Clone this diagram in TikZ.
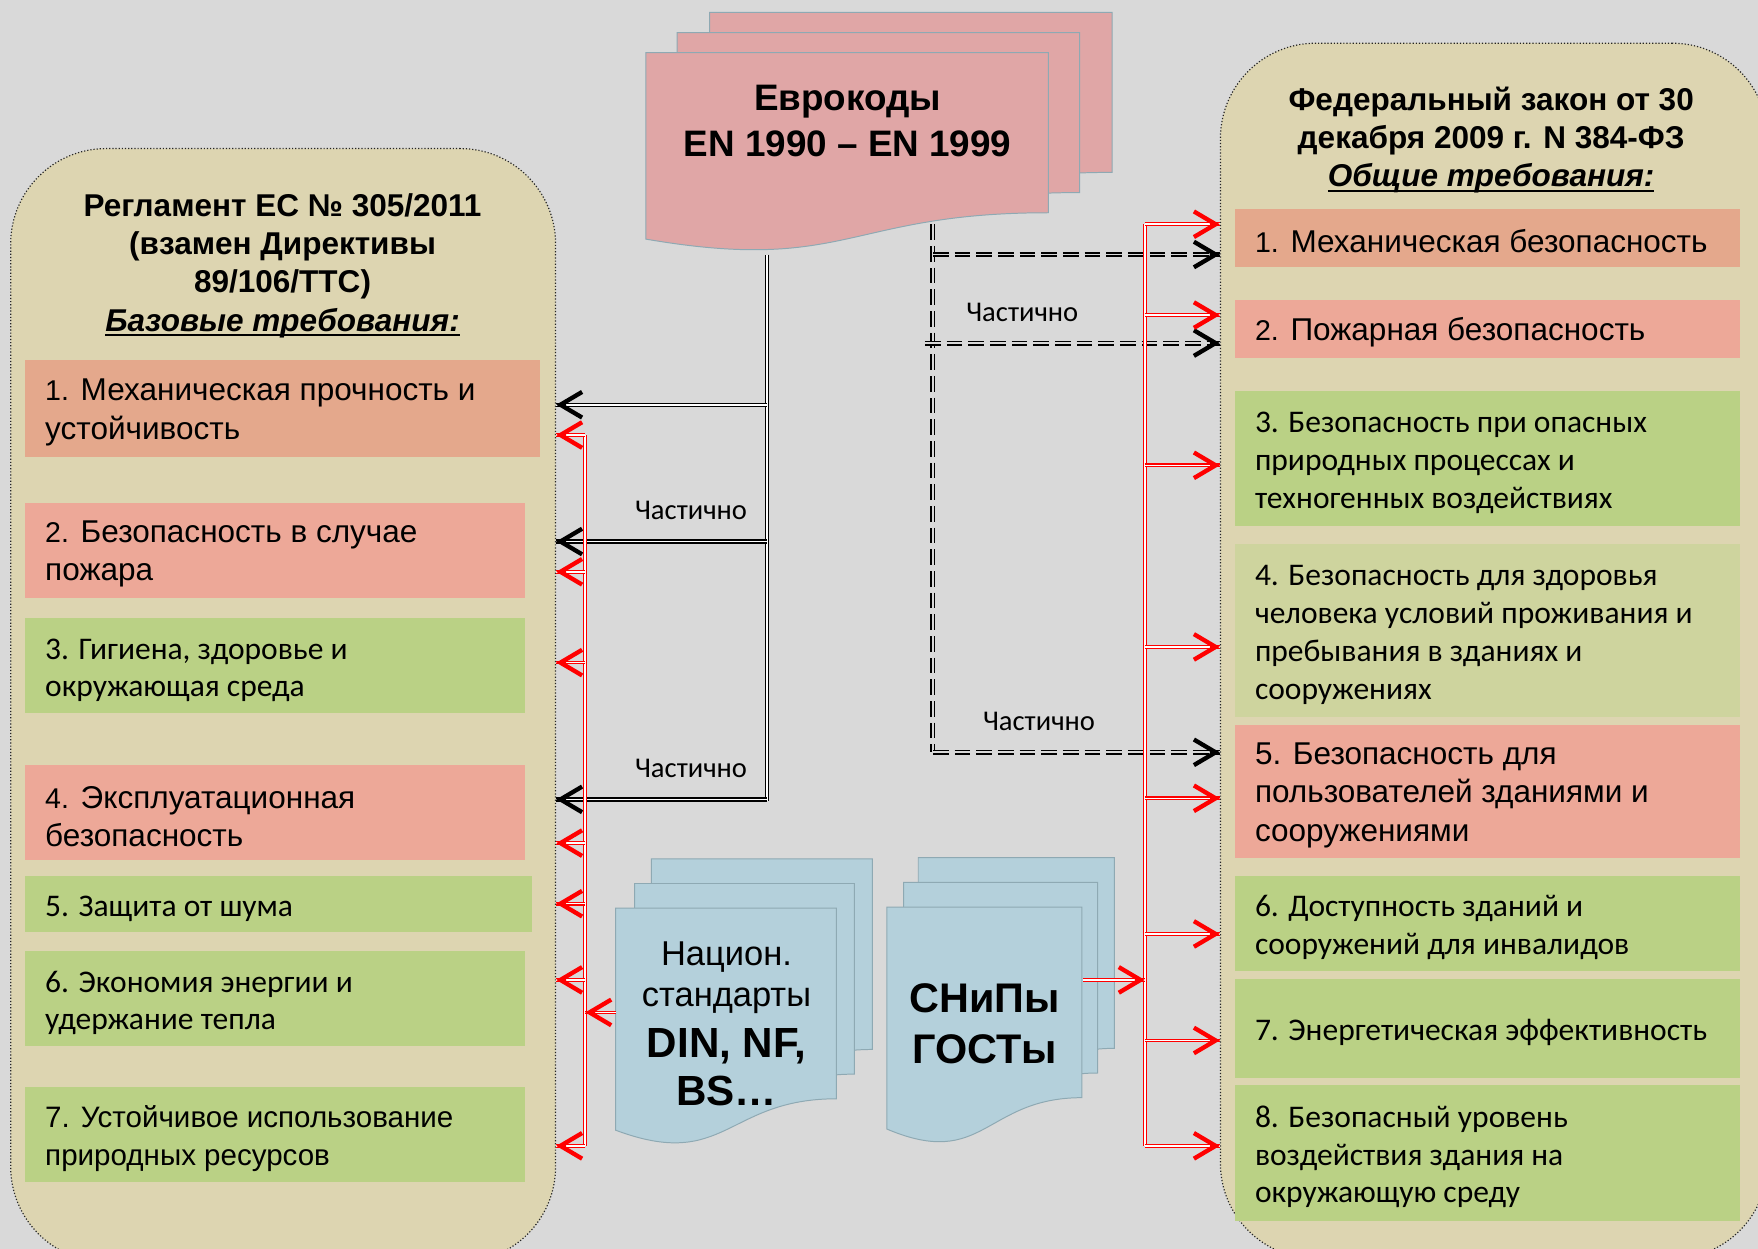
\documentclass[tikz,border=0pt]{standalone}
\usepackage{fontspec}
\setmainfont{Liberation Sans}
\newfontfamily\calfont{Carlito}
\usetikzlibrary{arrows.meta}

\definecolor{bggray}{HTML}{D9D9D9}
\definecolor{panelbeige}{HTML}{DDD5B1}
\definecolor{reqorange}{HTML}{E4A88C}
\definecolor{reqpink}{HTML}{EDA898}
\definecolor{reqgreen}{HTML}{BAD185}
\definecolor{reqpale}{HTML}{CED49E}
\definecolor{europink}{HTML}{E0A6A6}
\definecolor{docblue}{HTML}{B4D0DB}
\definecolor{docedge}{HTML}{8EA9B3}

% underlined subtitle
\newcommand{\titleul}[1]{\setbox0\hbox{#1}\rlap{\rule[-2.6pt]{\wd0}{1pt}}\box0}
% smaller item number
\newcommand{\itemno}[1]{{\fontsize{14.5}{19.4}\selectfont #1}}
% document shape: x, y, width, height, fill
\newcommand{\docpage}[5]{%
  \filldraw[docpage, fill=#5] (#1,#2) -- ({#1+#3},#2) -- ({#1+#3},{#2+0.802*#4})
    .. controls ({#1+0.5*#3},{#2+0.802*#4}) and ({#1+0.5*#3},{#2+1.1075*#4}) .. (#1,{#2+0.934*#4}) -- cycle;}

\tikzset{
  panel/.style={anchor=north west, draw=black!85, densely dotted, line width=0.6pt,
    fill=panelbeige, rounded corners=17mm},
  ptitle/.style={align=center, font=\fontsize{16}{19.4}\selectfont\bfseries},
  reqbox/.style={anchor=north west, inner xsep=3.6mm, inner ysep=0pt, text height=15pt,
    align=flush left},
  arialtxt/.style={font=\fontsize{16}{19.4}\selectfont},
  caltxt/.style={font=\calfont\fontsize{16}{19.2}\selectfont},
  docpage/.style={draw=docedge, line width=0.5pt},
  doctext/.style={align=center, font=\fontsize{17.5}{21}\selectfont},
  partlbl/.style={above=10.5pt, inner sep=0pt, font=\calfont\fontsize{14.5}{17}\selectfont},
  % open arrow head, drawn on a short stub at the end of a double line
  tiparrow/.style={line width=2.2pt, line cap=round,
    -{Straight Barb[length=11pt, width=13pt, line width=2.2pt]}},
  eulink/.style={draw=black, double=white, line width=0.65pt, double distance=0.9pt},
  dashlink/.style={draw=black, double=bggray, line width=0.75pt, double distance=1pt,
    dash pattern=on 8pt off 3pt},
  redlink/.style={draw=red, double=white, line width=0.55pt, double distance=0.8pt}
}

\begin{document}
\begin{tikzpicture}[x=0.2mm, y=-0.2mm]
  % canvas
  \useasboundingbox (0,0) rectangle (1568,1114);
  \clip (0,0) rectangle (1568,1114);
  \fill[bggray] (0,0) rectangle (1568,1114);

  % Side panels
  \node[panel, minimum width=97.2mm, minimum height=198.6mm] (L) at (9,132) {};
  \node[panel, minimum width=97.6mm, minimum height=216.8mm] (R) at (1088,38) {};

  % Panel titles
  \node[ptitle] (Ltitle) at (252,237) {Регламент ЕС № 305/2011\\(взамен Директивы\\89/106/ТТС)\\\titleul{\textit{Базовые требования:}}};
  \node[ptitle] (Rtitle) at (1330,125) {Федеральный закон от 30\\декабря 2009 г. N 384-ФЗ\\\titleul{\textit{Общие требования:}}};

  % Left requirements
  \node[reqbox, arialtxt, fill=reqorange, text width=84.6mm, minimum height=17.2mm] (l1) at (22,321) {\itemno{1.} Механическая прочность и\\устойчивость};
  \node[reqbox, arialtxt, fill=reqpink, text width=82mm, minimum height=17mm] (l2) at (22,448) {\itemno{2.} Безопасность в случае\\пожара};
  \node[reqbox, caltxt, fill=reqgreen, text width=82mm, minimum height=17mm] (l3) at (22,551) {3. Гигиена, здоровье и\\окружающая среда};
  \node[reqbox, arialtxt, fill=reqpink, text width=82mm, minimum height=17mm] (l4) at (22,682) {\itemno{4.} Эксплуатационная\\безопасность};
  \node[reqbox, caltxt, fill=reqgreen, text width=83.2mm, minimum height=10mm] (l5) at (22,781) {5. Защита от шума};
  \node[reqbox, caltxt, fill=reqgreen, text width=82mm, minimum height=17mm] (l6) at (22,848) {6. Экономия энергии и\\удержание тепла};
  \node[reqbox, arialtxt, font=\fontsize{15}{19.4}\selectfont, fill=reqgreen, text width=82mm, minimum height=17mm] (l7) at (22,969) {7. Устойчивое использование\\природных ресурсов};

  % Right requirements
  \node[reqbox, arialtxt, fill=reqorange, text width=83mm, minimum height=10.4mm] (r1) at (1101,186) {\itemno{1.} Механическая безопасность};
  \node[reqbox, arialtxt, fill=reqpink, text width=83mm, minimum height=10.4mm] (r2) at (1101,267) {\itemno{2.} Пожарная безопасность};
  \node[reqbox, caltxt, fill=reqgreen, text width=83mm, minimum height=24.2mm] (r3) at (1101,348) {3. Безопасность при опасных\\природных процессах и\\техногенных воздействиях};
  \node[reqbox, caltxt, fill=reqpale, text width=83mm, minimum height=30.8mm] (r4) at (1101,485) {4. Безопасность для здоровья\\человека условий проживания и\\пребывания в зданиях и\\сооружениях};
  \node[reqbox, arialtxt, fill=reqpink, text width=83mm, minimum height=23.8mm] (r5) at (1101,646) {5. Безопасность для\\пользователей зданиями и\\сооружениями};
  \node[reqbox, caltxt, fill=reqgreen, text width=83mm, minimum height=17mm] (r6) at (1101,781) {6. Доступность зданий и\\сооружений для инвалидов};
  \node[reqbox, caltxt, fill=reqgreen, text width=83mm, minimum height=17.6mm] (r7) at (1101,873) {7. Энергетическая эффективность};
  \node[reqbox, caltxt, fill=reqgreen, text width=83mm, minimum height=24.4mm] (r8) at (1101,967) {8. Безопасный уровень\\воздействия здания на\\окружающую среду};

  % Eurocodes stack
  \docpage{633}{11}{359}{178}{europink}
  \docpage{604}{29}{359}{178}{europink}
  \docpage{576}{47}{359}{178}{europink}
  \node[doctext, font=\fontsize{18.7}{23.3}\selectfont\bfseries] (eu) at (756,108) {Еврокоды\\EN 1990 – EN 1999};

  % National standards and SNiP stacks
  \docpage{581}{766}{197}{212}{docblue}
  \docpage{566}{788}{196}{212}{docblue}
  \docpage{549}{810}{197}{212}{docblue}
  \node[doctext] (nat) at (648,913) {Национ.\\стандарты\\[5pt]{\bfseries\fontsize{21.4}{25}\selectfont DIN, NF,}\\[3pt]{\bfseries\fontsize{21.4}{25}\selectfont BS…}};
  \docpage{819}{765}{175}{212}{docblue}
  \docpage{806}{787}{173}{212}{docblue}
  \docpage{791}{809}{174}{212}{docblue}
  \node[doctext, font=\fontsize{21}{26}\selectfont\bfseries] (snip) at (878,913) {СНиПы\\ГОСТы};

  % Connector ends
  \coordinate (eufoot) at (684,227);
  \coordinate (eudash) at (832,200);
  \coordinate (lbus) at (522,388);
  \coordinate (rbus) at (1021,200);
  \coordinate (natedge) at (549,903);
  \coordinate (snipedge) at (966,874);

  % Eurocodes -> EU regulation
  \draw[eulink] (eufoot) -- (eufoot |- 0,714);
  \draw[eulink] (eufoot |- 0,361) -- (L.east |- 0,361);
  \draw[eulink] (eufoot |- 0,483) -- node[partlbl, pos=0.36] (p1) {Частично} (L.east |- 0,483);
  \draw[eulink] (eufoot |- 0,713) -- node[partlbl, pos=0.36] (p2) {Частично} (L.east |- 0,713);
  \foreach \y in {361,483,713}
    \draw[tiparrow] ([xshift=4pt]L.east |- 0,\y) -- (L.east |- 0,\y);

  % Eurocodes -> federal law (partly)
  \draw[dashlink] (eudash) -- (eudash |- 0,671);
  \draw[dashlink] (eudash |- 0,227) -- (R.west |- 0,227);
  \draw[dashlink] ([xshift=-1.4mm]eudash |- 0,306) -- node[partlbl, pos=0.33] (p3) {Частично} (R.west |- 0,306);
  \draw[dashlink] (eudash |- 0,671) -- node[partlbl, pos=0.37] (p4) {Частично} (R.west |- 0,671);
  \foreach \y in {227,306,671}
    \draw[tiparrow] ([xshift=-4pt]R.west |- 0,\y) -- (R.west |- 0,\y);

  % National standards -> left panel
  \draw[redlink] (lbus) -- (lbus |- 0,1022);
  \foreach \y in {388,510,591,752,806,874,1022} {
    \draw[redlink] (lbus |- 0,\y) -- (L.east |- 0,\y);
    \draw[tiparrow, red] ([xshift=4pt]L.east |- 0,\y) -- (L.east |- 0,\y);
  }
  \draw[redlink] (natedge) -- (lbus |- natedge);
  \draw[tiparrow, red] ([xshift=4pt]lbus |- natedge) -- (lbus |- natedge);

  % SNiP -> right panel
  \draw[redlink] (rbus) -- (rbus |- 0,1022);
  \foreach \y in {200,281,415,577,712,833,928,1022} {
    \draw[redlink] (rbus |- 0,\y) -- (R.west |- 0,\y);
    \draw[tiparrow, red] ([xshift=-4pt]R.west |- 0,\y) -- (R.west |- 0,\y);
  }
  \draw[redlink] (snipedge) -- (rbus |- snipedge);
  \draw[tiparrow, red] ([xshift=-4pt]rbus |- snipedge) -- (rbus |- snipedge);
\end{tikzpicture}
\end{document}
